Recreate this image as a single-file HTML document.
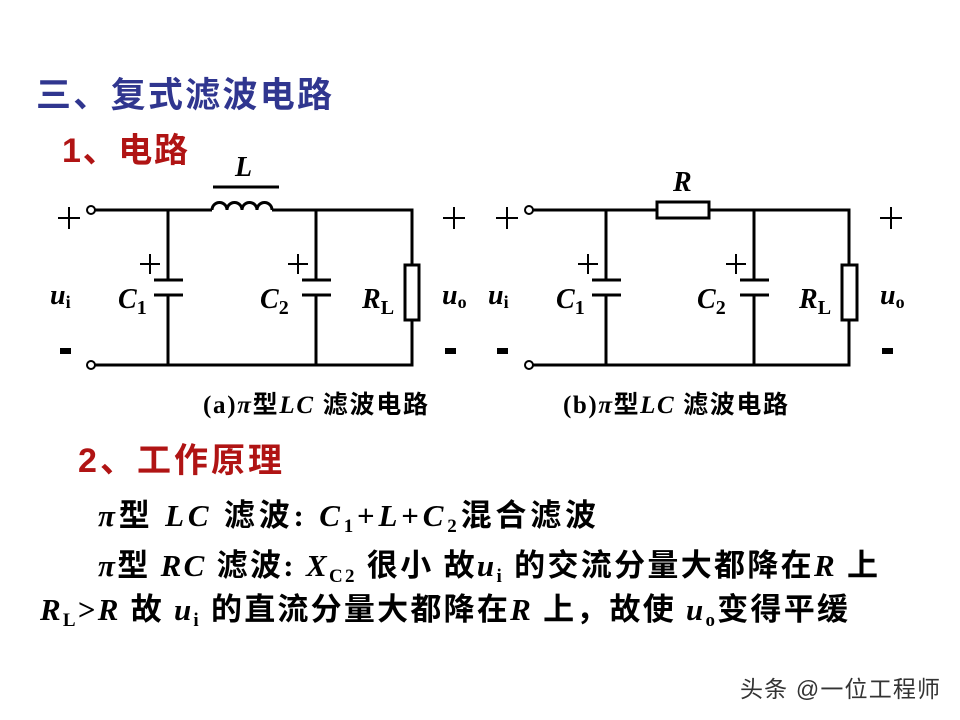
<!DOCTYPE html>
<html><head><meta charset="utf-8"><style>
body{margin:0;background:#fff;}
svg{display:block;}
.t{font-family:"Liberation Sans","Noto Sans CJK SC",sans-serif;font-weight:bold;}
.s{font-family:"Liberation Serif","Noto Sans CJK SC",serif;font-weight:bold;}
.i{font-style:italic;font-weight:bold;}
</style></head><body>
<svg width="960" height="720" viewBox="0 0 960 720" xmlns="http://www.w3.org/2000/svg">
<text x="36" y="107" class="t" font-size="35" fill="#30368f" textLength="296" lengthAdjust="spacing">三、复式滤波电路</text>
<text x="62" y="162" class="t" font-size="34" fill="#b01414" textLength="126" lengthAdjust="spacing">1、电路</text>
<text x="78" y="472" class="t" font-size="34" fill="#b01414" textLength="204" lengthAdjust="spacing">2、工作原理</text>

<g stroke="#000" stroke-width="3" fill="none">
<circle cx="91" cy="210" r="4" stroke-width="2"/>
<circle cx="91" cy="365" r="4" stroke-width="2"/>
<path d="M95 210H212 M272 210H412V265 M412 320V365H95"/>
<path d="M212 210 a7.5 7.5 0 0 1 15 0 a7.5 7.5 0 0 1 15 0 a7.5 7.5 0 0 1 15 0 a7.5 7.5 0 0 1 15 0"/>
<path d="M213 187H279"/>
<path d="M168 210V280 M154 280H183 M154 295H183 M168 295V365"/>
<path d="M316 210V280 M302 280H331 M302 295H331 M316 295V365"/>
<rect x="405" y="265" width="14" height="55"/>
<circle cx="529" cy="210" r="4" stroke-width="2"/>
<circle cx="529" cy="365" r="4" stroke-width="2"/>
<path d="M533 210H657 M709 210H849V265 M849 320V365H533"/>
<rect x="657" y="202" width="52" height="16"/>
<path d="M606 210V280 M592 280H621 M592 295H621 M606 295V365"/>
<path d="M754 210V280 M740 280H769 M740 295H769 M754 295V365"/>
<rect x="842" y="265" width="15" height="55"/>
</g>

<g fill="#000" stroke="#000" stroke-width="2">
<path d="M58 218H80M69 207V229 M443 218H465M454 207V229 M496 218H518M507 207V229 M880 218H902M891 207V229"/>
<path d="M140 264H160M150 254V274 M288 264H308M298 254V274 M578 264H598M588 254V274 M726 264H746M736 254V274"/>
</g>
<g fill="#000">
<rect x="60" y="348" width="11" height="6"/><rect x="445" y="348" width="11" height="6"/>
<rect x="497" y="348" width="11" height="6"/><rect x="882" y="348" width="11" height="6"/>
</g>
<g class="s" fill="#000" font-size="28">
<text x="235" y="176" class="i">L</text>
<text x="673" y="191" class="i">R</text>
<text x="50" y="304" class="i">u<tspan font-size="18" font-style="normal" dy="4">i</tspan></text>
<text x="442" y="304" class="i">u<tspan font-size="18" font-style="normal" dy="4">o</tspan></text>
<text x="488" y="304" class="i">u<tspan font-size="18" font-style="normal" dy="4">i</tspan></text>
<text x="880" y="304" class="i">u<tspan font-size="18" font-style="normal" dy="4">o</tspan></text>
<text x="118" y="308" class="i">C<tspan font-size="20" font-style="normal" dy="6">1</tspan></text>
<text x="260" y="308" class="i">C<tspan font-size="20" font-style="normal" dy="6">2</tspan></text>
<text x="362" y="308" class="i">R<tspan font-size="20" font-style="normal" dy="6">L</tspan></text>
<text x="556" y="308" class="i">C<tspan font-size="20" font-style="normal" dy="6">1</tspan></text>
<text x="697" y="308" class="i">C<tspan font-size="20" font-style="normal" dy="6">2</tspan></text>
<text x="799" y="308" class="i">R<tspan font-size="20" font-style="normal" dy="6">L</tspan></text>
</g>
<g class="s" fill="#000" font-size="25">
<text x="203" y="413" textLength="225" lengthAdjust="spacing">(a)<tspan class="i">π</tspan>型<tspan class="i">LC</tspan> 滤波电路</text>
<text x="563" y="413" textLength="225" lengthAdjust="spacing">(b)<tspan class="i">π</tspan>型<tspan class="i">LC</tspan> 滤波电路</text>
</g>
<g class="s" fill="#000" font-size="31">
<text x="98" y="526" textLength="498" lengthAdjust="spacing"><tspan class="i">π</tspan>型 <tspan class="i">LC</tspan> 滤波: <tspan class="i">C</tspan><tspan font-size="19" dy="6">1</tspan><tspan dy="-6">+</tspan><tspan class="i">L</tspan>+<tspan class="i">C</tspan><tspan font-size="19" dy="6">2</tspan><tspan dy="-6">混合滤波</tspan></text>
<text x="98" y="576" textLength="780" lengthAdjust="spacing"><tspan class="i">π</tspan>型 <tspan class="i">RC</tspan> 滤波: <tspan class="i">X</tspan><tspan font-size="19" dy="6">C2</tspan><tspan dy="-6"> 很小 故</tspan><tspan class="i">u</tspan><tspan font-size="19" dy="6">i</tspan><tspan dy="-6"> 的交流分量大都降在</tspan><tspan class="i">R</tspan> 上</text>
<text x="40" y="620" textLength="808" lengthAdjust="spacing"><tspan class="i">R</tspan><tspan font-size="19" dy="6">L</tspan><tspan dy="-6">&gt;</tspan><tspan class="i">R</tspan> 故 <tspan class="i">u</tspan><tspan font-size="19" dy="6">i</tspan><tspan dy="-6"> 的直流分量大都降在</tspan><tspan class="i">R</tspan> 上，故使 <tspan class="i">u</tspan><tspan font-size="19" dy="6">o</tspan><tspan dy="-6">变得平缓</tspan></text>
</g>
<text x="740" y="697" font-size="23" fill="#333" style="font-family:'Liberation Sans','Noto Sans CJK SC',sans-serif" textLength="200" lengthAdjust="spacing">头条 @一位工程师</text>
</svg>
</body></html>
